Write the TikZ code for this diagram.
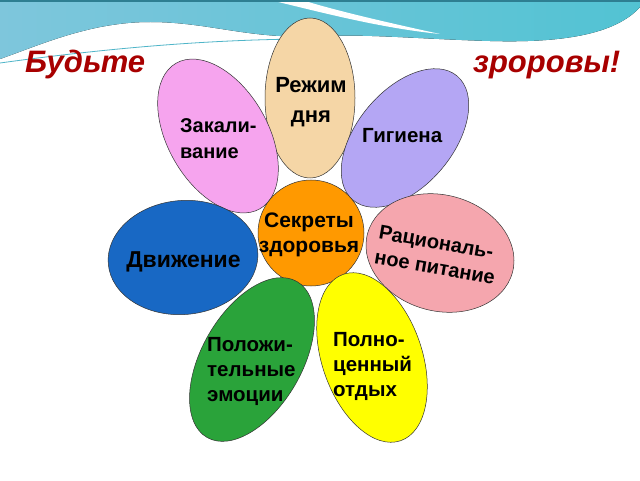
\documentclass[tikz,border=0pt]{standalone}
\usepackage{fontspec}
\setmainfont{Liberation Sans}
\usetikzlibrary{shapes.geometric,positioning}
\definecolor{bandblue}{HTML}{7EC6DC}
\definecolor{bandteal}{HTML}{52C3D3}
\definecolor{bandline}{HTML}{4FB5C8}
\definecolor{bandtop}{HTML}{2E7F92}
\definecolor{titlered}{HTML}{A80000}
\definecolor{beige}{HTML}{F5D6A6}
\definecolor{rosepink}{HTML}{F6A4EE}
\definecolor{lavender}{HTML}{B4A6F4}
\definecolor{salmon}{HTML}{F5A6AE}
\definecolor{moveblue}{HTML}{1868C4}
\definecolor{coreorange}{HTML}{FF9900}
\definecolor{leafgreen}{HTML}{2AA33A}
\definecolor{sunyellow}{HTML}{FFFF00}
\tikzstyle{petal}=[ellipse,draw=black!80,line width=0.5pt,inner sep=0pt]
\tikzstyle{petal text}=[font=\bfseries\fontsize{20}{25}\selectfont,align=left,inner sep=0pt]
\tikzstyle{title text}=[font=\bfseries\itshape\fontsize{31}{31}\selectfont,text=titlered,inner sep=0pt]

\begin{document}
\begin{tikzpicture}[x=1pt,y=1pt]
  \useasboundingbox (0,0) rectangle (640,480);
  \fill[white] (0,0) rectangle (640,480);

  % wave at the top
  \fill[left color=bandblue,right color=bandteal] (0,480) -- (640,480) -- (640,473)
    .. controls (615,445) and (560,437) .. (490,439)
    .. controls (420,441) and (370,446) .. (320,444)
    .. controls (250,440) and (210,458) .. (150,458)
    .. controls (90,458) and (40,435) .. (0,421) -- cycle;
  \fill[white] (270,480) .. controls (320,468) and (380,452) .. (440,446)
    .. controls (380,459) and (330,471) .. (302,480) -- cycle;
  \draw[bandline,line width=0.8pt] (0,417) .. controls (80,428) and (200,442) .. (330,441);
  \fill[bandtop] (0,477.5) rectangle (640,480);

  \node[title text,anchor=base west] (budte) at (25,407) {Будьте};
  \node[title text,anchor=base west] (zdorovy) at (473,407) {зроровы!};

  % petals
  \node[petal,fill=beige,minimum width=90,minimum height=160] (rezhim) at (310,382) {};
  \node[petal,fill=rosepink,minimum width=100,minimum height=168,rotate=30] (zakal) at (218,344) {};
  \node[petal,fill=lavender,minimum width=96,minimum height=162,rotate=-40] (gigiena) at (405,342) {};
  \node[petal,fill=salmon,minimum width=150,minimum height=116,rotate=-15] (pitanie) at (440,227) {};
  \node[petal,fill=moveblue,minimum width=150,minimum height=114,rotate=5] (dvizh) at (183,222.5) {};
  \node[petal,fill=coreorange,minimum width=106,minimum height=106] (sekret) at (311,247) {};
  \node[petal,fill=leafgreen,minimum width=100,minimum height=180,rotate=-30] (emocii) at (252,120.5) {};
  \node[petal,fill=sunyellow,minimum width=100,minimum height=176,rotate=19] (otdyh) at (372,122.5) {};

  % texts (base = last line)
  \node[petal text,font=\bfseries\fontsize{22}{30}\selectfont,align=center,anchor=base] (rezhim text) at (311,357) {Режим\\дня};
  \node[petal text,font=\bfseries\fontsize{20}{26}\selectfont,anchor=base west] (zakal text) at (180,321) {Закали-\\вание};
  \node[petal text,font=\bfseries\fontsize{20.5}{25}\selectfont,anchor=base west] (gigiena text) at (362,337) {Гигиена};
  \node[petal text,font=\bfseries\fontsize{21}{24}\selectfont,align=center,anchor=base] (sekret text) at (309,228) {Секреты\\здоровья};
  \node[petal text,font=\bfseries\fontsize{23}{28}\selectfont,anchor=base] (dvizh text) at (183.5,213) {Движение};
  \node[petal text,rotate=-10] (pitanie text) at (437,225) {Рациональ-\\ное питание};
  \node[petal text,font=\bfseries\fontsize{20.5}{25}\selectfont,anchor=base west] (emocii text) at (207,79) {Положи-\\тельные\\эмоции};
  \node[petal text,font=\bfseries\fontsize{20.5}{25}\selectfont,anchor=base west] (otdyh text) at (333,84) {Полно-\\ценный\\отдых};
\end{tikzpicture}
\end{document}
